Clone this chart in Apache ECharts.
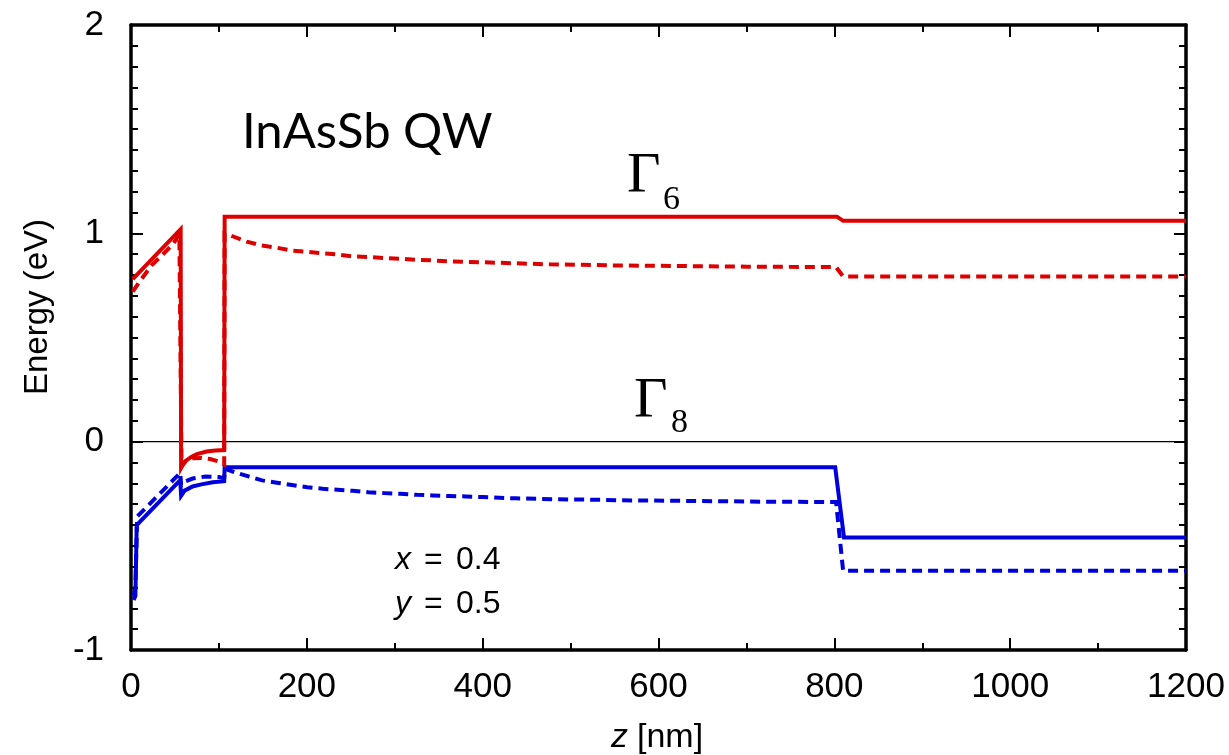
<!DOCTYPE html>
<html>
<head>
<meta charset="utf-8">
<script src="https://cdn.jsdelivr.net/npm/echarts@6/dist/echarts.min.js"></script>
<style>
  html, body { margin: 0; padding: 0; background: #ffffff; }
  #chart { width: 1229px; height: 755px; }
</style>
</head>
<body>
<div id="chart"></div>
<script>
// Band edges of the InAsSb quantum-well structure along z (nm), energies in eV.
// Γ6 conduction band edge (solid) and its alternative profile (dashed)
const gamma6Solid = [
  [2, 0.78], [56.5, 1.02], [57, -0.125], [60, -0.10], [63.5, -0.088], [69, -0.072],
  [75, -0.06], [86, -0.047], [96, -0.042], [106, -0.04], [106.5, 1.08],
  [803, 1.08], [810, 1.06], [1200, 1.06]
];
const gamma6Dashed = [
  [2, 0.72], [10, 0.77], [23.5, 0.846], [36.6, 0.90], [48, 0.95], [55, 0.995], [57, 1.0],
  [57.5, -0.12], [62, -0.095], [70, -0.08], [80, -0.078], [90, -0.083], [100, -0.095],
  [106, -0.11], [106.5, 1.0], [115.7, 0.986], [131.6, 0.96], [148.7, 0.942],
  [165.8, 0.931], [181.7, 0.918], [199, 0.912], [217, 0.904], [234, 0.899],
  [253, 0.889], [272, 0.886], [290, 0.881], [308, 0.878], [326, 0.872], [344, 0.870],
  [362, 0.865], [382, 0.863], [400, 0.861], [438, 0.856], [477, 0.851], [514, 0.849],
  [550, 0.846], [600, 0.844], [650, 0.842], [700, 0.840], [750, 0.839], [802, 0.838],
  [810, 0.793], [1200, 0.793]
];
// Γ8 valence band edge (solid) and dashed counterpart
const gamma8Solid = [
  [3, -0.76], [5, -0.74], [6.5, -0.40], [56, -0.185], [57, -0.26], [61, -0.235],
  [70, -0.215], [80, -0.205], [93, -0.195], [106, -0.19], [106.5, -0.123],
  [801, -0.123], [811, -0.46], [1200, -0.46]
];
const gamma8Dashed = [
  [3, -0.74], [5, -0.70], [7, -0.36], [56, -0.15], [57, -0.21], [62, -0.19],
  [70, -0.177], [85, -0.167], [100, -0.17], [106, -0.175], [107, -0.13],
  [118, -0.147], [134.6, -0.168], [149, -0.186], [166, -0.197], [183, -0.208],
  [200.6, -0.219], [218, -0.226], [235, -0.231], [252, -0.236], [270, -0.243],
  [288, -0.247], [306, -0.25], [325, -0.255], [343, -0.258], [362, -0.261],
  [381, -0.263], [400, -0.266], [437, -0.272], [480, -0.276], [530, -0.279],
  [570, -0.282], [650, -0.285], [720, -0.288], [802, -0.29], [810, -0.62], [1200, -0.62]
];
// Energy reference line
const zeroLine = [[0, 0], [1200, 0]];

const zRange = [0, 1200];
const zStep = 200;
const eRange = [-1, 2];
const eStep = 1;

const RED = '#dd0000';
const BLUE = '#0000dd';
const SANS = '"Liberation Sans", Arial, sans-serif';
const SERIF = '"Liberation Serif", "Times New Roman", serif';

const chart = echarts.init(document.getElementById('chart'), null, { renderer: 'canvas' });

const frameLine = { show: true, onZero: false, lineStyle: { color: '#000', width: 3.5 } };
const majorTick = { show: true, inside: true, length: 12, lineStyle: { color: '#000', width: 2 } };
const plainNumber = v => String(v);

function bandSeries(name, data, color, dashed) {
  return {
    name, type: 'line', data, symbol: 'none', smooth: false,
    lineStyle: { color, width: 4, type: dashed ? [10, 6] : 'solid', cap: 'butt', join: 'miter' },
    z: 3
  };
}

chart.setOption({
  animation: false,
  backgroundColor: '#ffffff',
  grid: { left: 131, right: 43, top: 25, bottom: 105 },
  xAxis: [
    {
      type: 'value', min: zRange[0], max: zRange[1], interval: zStep, position: 'bottom',
      axisLine: frameLine, axisTick: majorTick,
      minorTick: { show: true, splitNumber: 2, length: 7, lineStyle: { color: '#000', width: 2 } },
      axisLabel: { color: '#000', fontSize: 35, fontFamily: SANS, margin: 20, formatter: plainNumber },
      splitLine: { show: false }
    },
    {
      type: 'value', min: zRange[0], max: zRange[1], interval: zStep, position: 'top',
      axisLine: frameLine, axisTick: majorTick,
      minorTick: { show: true, splitNumber: 2, length: 7, lineStyle: { color: '#000', width: 2 } },
      axisLabel: { show: false }, splitLine: { show: false }
    }
  ],
  yAxis: [
    {
      type: 'value', min: eRange[0], max: eRange[1], interval: eStep, position: 'left',
      axisLine: frameLine, axisTick: majorTick,
      minorTick: { show: true, splitNumber: 10, length: 7, lineStyle: { color: '#000', width: 2 } },
      axisLabel: { color: '#000', fontSize: 35, fontFamily: SANS, margin: 27, formatter: plainNumber },
      splitLine: { show: false }
    },
    {
      type: 'value', min: eRange[0], max: eRange[1], interval: eStep, position: 'right',
      axisLine: frameLine, axisTick: majorTick,
      minorTick: { show: true, splitNumber: 10, length: 7, lineStyle: { color: '#000', width: 2 } },
      axisLabel: { show: false }, splitLine: { show: false }
    }
  ],
  series: [
    {
      name: 'zero', type: 'line', data: zeroLine, symbol: 'none',
      lineStyle: { color: '#000', width: 1.3 }, z: 2
    },
    bandSeries('Γ8 dashed', gamma8Dashed, BLUE, true),
    bandSeries('Γ8 solid', gamma8Solid, BLUE, false),
    bandSeries('Γ6 dashed', gamma6Dashed, RED, true),
    bandSeries('Γ6 solid', gamma6Solid, RED, false)
  ],
  graphic: [
    { type: 'text', left: 242, top: 108, style: { text: 'InAsSb QW', font: '49px Lato, "Open Sans", sans-serif', fill: '#000' } },
    { type: 'text', left: 627, top: 148, style: { text: 'Γ', font: '58px ' + SERIF, fill: '#000' } },
    { type: 'text', left: 663, top: 183, style: { text: '6', font: '34px ' + SERIF, fill: '#000' } },
    { type: 'text', left: 634, top: 373, style: { text: 'Γ', font: '58px ' + SERIF, fill: '#000' } },
    { type: 'text', left: 671, top: 406, style: { text: '8', font: '34px ' + SERIF, fill: '#000' } },
    { type: 'text', left: 395, top: 544, style: { text: 'x', font: 'italic 32px ' + SANS, fill: '#000' } },
    { type: 'text', left: 424, top: 544, style: { text: '=', font: '32px ' + SANS, fill: '#000' } },
    { type: 'text', left: 456, top: 544, style: { text: '0.4', font: '32px ' + SANS, fill: '#000' } },
    { type: 'text', left: 395, top: 588, style: { text: 'y', font: 'italic 32px ' + SANS, fill: '#000' } },
    { type: 'text', left: 424, top: 588, style: { text: '=', font: '32px ' + SANS, fill: '#000' } },
    { type: 'text', left: 456, top: 588, style: { text: '0.5', font: '32px ' + SANS, fill: '#000' } },
    {
      type: 'text', x: 38, y: 307, rotation: Math.PI / 2,
      style: { text: 'Energy (eV)', font: '33px ' + SANS, fill: '#000', align: 'center', verticalAlign: 'middle' }
    },
    { type: 'text', left: 611, top: 721, style: { text: 'z', font: 'italic 34px ' + SANS, fill: '#000' } },
    { type: 'text', left: 637, top: 721, style: { text: '[nm]', font: '34px ' + SANS, fill: '#000' } }
  ]
});
</script>
</body>
</html>
